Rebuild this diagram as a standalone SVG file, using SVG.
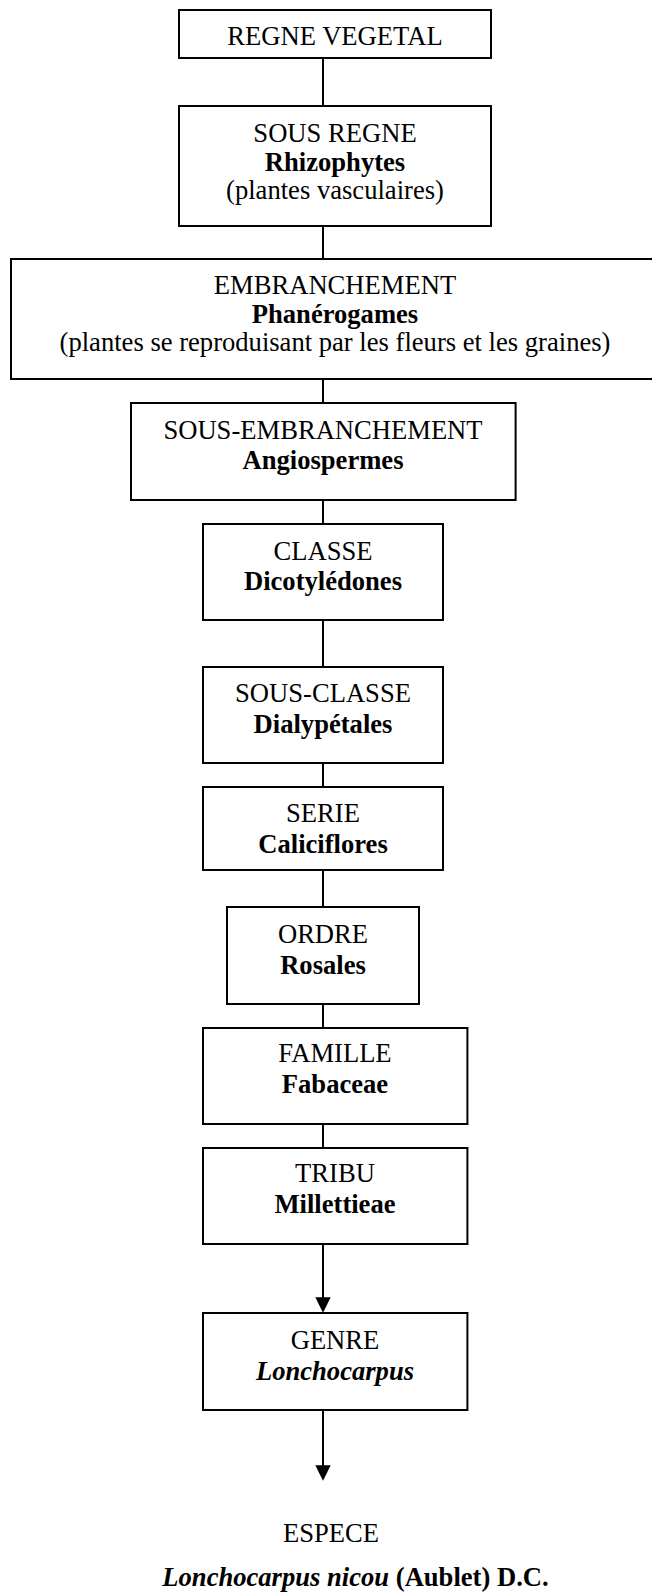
<svg xmlns="http://www.w3.org/2000/svg" width="652" height="1592" viewBox="0 0 652 1592">
  <style>
    .box { fill: #ffffff; stroke: #000000; stroke-width: 2; }
    .conn { stroke: #000000; stroke-width: 2; fill: none; }
    text { font-family: "Liberation Serif", "Times New Roman", serif; font-size: 26.6px; fill: #000000; text-anchor: middle; }
    .b { font-weight: bold; }
    .i { font-style: italic; }
  </style>
  <defs>
    <marker id="arrow" markerUnits="userSpaceOnUse" markerWidth="16" markerHeight="16" refX="7.7" refY="7.7" orient="auto">
      <path d="M0,0 L15.4,7.7 L0,15.4 z" fill="#000000"/>
    </marker>
  </defs>
  <rect width="652" height="1592" fill="#ffffff"/>

  <g id="connectors">
    <line class="conn" x1="323" y1="58" x2="323" y2="106"/>
    <line class="conn" x1="323" y1="226" x2="323" y2="259"/>
    <line class="conn" x1="323" y1="379" x2="323" y2="403"/>
    <line class="conn" x1="323" y1="500" x2="323" y2="524"/>
    <line class="conn" x1="323" y1="620" x2="323" y2="667"/>
    <line class="conn" x1="323" y1="763" x2="323" y2="787"/>
    <line class="conn" x1="323" y1="870" x2="323" y2="907"/>
    <line class="conn" x1="323" y1="1004" x2="323" y2="1028"/>
    <line class="conn" x1="323" y1="1124" x2="323" y2="1148"/>
    <line class="conn" x1="323" y1="1244" x2="323" y2="1305" marker-end="url(#arrow)"/>
    <line class="conn" x1="323" y1="1410" x2="323" y2="1473" marker-end="url(#arrow)"/>
  </g>

  <g id="regne">
    <rect class="box" x="179" y="10" width="312" height="48"/>
    <text x="335" y="45">REGNE VEGETAL</text>
  </g>

  <g id="sous-regne">
    <rect class="box" x="179" y="106" width="312" height="120"/>
    <text x="335" y="142">SOUS REGNE</text>
    <text class="b" x="335" y="171">Rhizophytes</text>
    <text x="335" y="199">(plantes vasculaires)</text>
  </g>

  <g id="embranchement">
    <rect class="box" x="11" y="259" width="643" height="120"/>
    <text x="335" y="294">EMBRANCHEMENT</text>
    <text class="b" x="335" y="322.5">Phanérogames</text>
    <text x="335" y="351">(plantes se reproduisant par les fleurs et les graines)</text>
  </g>

  <g id="sous-embranchement">
    <rect class="box" x="131" y="403" width="384.6" height="97"/>
    <text x="323" y="438.5">SOUS-EMBRANCHEMENT</text>
    <text class="b" x="323" y="469">Angiospermes</text>
  </g>

  <g id="classe">
    <rect class="box" x="203" y="524" width="240" height="96"/>
    <text x="323" y="559.5">CLASSE</text>
    <text class="b" x="323" y="589.5">Dicotylédones</text>
  </g>

  <g id="sous-classe">
    <rect class="box" x="203" y="667" width="240" height="96"/>
    <text x="323" y="702">SOUS-CLASSE</text>
    <text class="b" x="323" y="733">Dialypétales</text>
  </g>

  <g id="serie">
    <rect class="box" x="203" y="787" width="240" height="83"/>
    <text x="323" y="822">SERIE</text>
    <text class="b" x="323" y="853">Caliciflores</text>
  </g>

  <g id="ordre">
    <rect class="box" x="227" y="907" width="192" height="97"/>
    <text x="323" y="942.5">ORDRE</text>
    <text class="b" x="323" y="973.5">Rosales</text>
  </g>

  <g id="famille">
    <rect class="box" x="203" y="1028" width="264.4" height="96"/>
    <text x="335" y="1062">FAMILLE</text>
    <text class="b" x="335" y="1093">Fabaceae</text>
  </g>

  <g id="tribu">
    <rect class="box" x="203" y="1148" width="264.4" height="96"/>
    <text x="335" y="1182">TRIBU</text>
    <text class="b" x="335" y="1213">Millettieae</text>
  </g>

  <g id="genre">
    <rect class="box" x="203" y="1313" width="264.4" height="97"/>
    <text x="335" y="1348.5">GENRE</text>
    <text class="b i" x="335" y="1379.5">Lonchocarpus</text>
  </g>

  <g id="espece">
    <text x="331" y="1542">ESPECE</text>
    <text class="b" x="355.5" y="1586"><tspan class="i">Lonchocarpus nicou</tspan> (Aublet) D.C.</text>
  </g>
</svg>
